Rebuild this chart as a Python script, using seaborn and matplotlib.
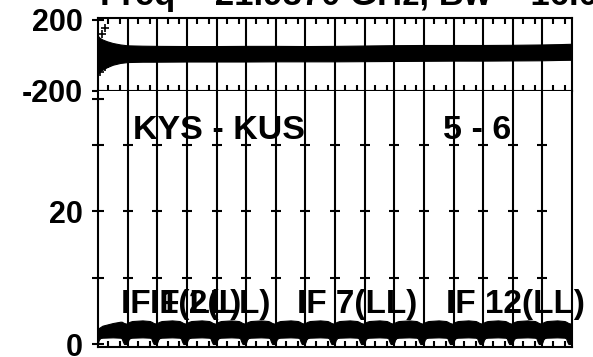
import numpy as np
import pandas as pd
import matplotlib
matplotlib.use("Agg")
import matplotlib.pyplot as plt
import seaborn as sns

sns.set_theme(style="white")
plt.rcParams['font.family'] = ['Liberation Sans', 'DejaVu Sans']
plt.rcParams['font.weight'] = 'bold'
plt.rcParams['text.color'] = 'black'
plt.rcParams['axes.labelcolor'] = 'black'
plt.rcParams['xtick.color'] = 'black'
plt.rcParams['ytick.color'] = 'black'

# ---------------- data ----------------
title = "Freq = 21.9870 GHz, Bw = 16.000 MHz"
baseline_label = "KYS - KUS"
channel_label = "5 - 6"
n_if = 16
if_label_text = ["IF 1(LL)", "IF 2(LL)", "IF 7(LL)", "IF 12(LL)"]
if_label_x = [0.76, 1.76, 6.72, 11.76]

# phase envelope (deg) along the band, x in IF units
phase_x = [0.00, 0.05, 0.15, 0.30, 0.50, 0.75, 1.00, 1.50, 2.00, 3.00, 4.00, 5.00,
           6.00, 7.00, 8.00, 9.00, 10.0, 11.0, 12.0, 13.0, 14.0, 15.0, 15.6, 16.0]
phase_hi = [110, 100, 90, 80, 70, 62, 57, 55, 54, 53, 53, 54,
            54, 53, 54, 56, 58, 59, 59, 59, 60, 62, 64, 66]
phase_lo = [-105, -90, -80, -66, -52, -42, -37, -35, -35, -34, -34, -34,
            -33, -33, -33, -32, -31, -30, -29, -29, -28, -27, -25, -24]
# isolated phase outliers in the first IF
phase_out_x = [0.07, 0.24, 0.24, 0.12]
phase_out_y = [-93, 155, -65, 120]

# amplitude envelope within one IF (bandpass shape), fraction of IF
amp_frac = [0.00, 0.03, 0.08, 0.15, 0.50, 0.75, 0.80, 0.84, 0.88, 0.97]
amp_lo_profile = [0.30, 0.70, 0.95, 1.00, 1.05, 1.00, 0.90, 0.40, 0.05, 0.05]
amp_hi_profile = [3.10, 3.30, 3.40, 3.50, 3.60, 3.50, 3.40, 3.30, 3.20, 3.10]
amp_hi_if1 = [2.30, 2.45, 2.60, 2.80, 3.20, 3.40, 3.40, 3.30, 3.20, 3.10]

phase_ticks = [200, -200]
amp_ticks = [0, 10, 20, 30, 36.9]
amp_tick_labels = ["0", "", "20", "", ""]
minor_frac = [0.35, 0.75]

# ---------------- figure ----------------
fig = plt.figure(figsize=(5.93, 3.57), dpi=100)
W, H = 593, 357
x0, x1 = 98, 572
ax1 = fig.add_axes([x0 / W, (H - 91) / H, (x1 - x0) / W, (91 - 18) / H])
ax2 = fig.add_axes([x0 / W, (H - 347) / H, (x1 - x0) / W, (347 - 91) / H])

lw = 1.5
edges = np.arange(n_if + 1)

# phase band
phase_df = pd.DataFrame({"x": phase_x + phase_x, "phase": phase_hi + phase_lo})
sns.lineplot(data=phase_df, x="x", y="phase", estimator="mean", errorbar=("pi", 100),
             color="black", lw=0, err_kws={"alpha": 1, "linewidth": 0.8, "edgecolor": "black"},
             ax=ax1)
sns.scatterplot(x=phase_out_x, y=phase_out_y, marker="+", s=40, color="black",
                linewidth=1.2, ax=ax1)
ax1.set_xlim(0, n_if)
ax1.set_ylim(-200, 211)

# amplitude band
rows_x, rows_y = [], []
for k in range(n_if):
    hi = amp_hi_if1 if k == 0 else amp_hi_profile
    for f, lo_v, hi_v in zip(amp_frac, amp_lo_profile, hi):
        rows_x += [k + f, k + f]
        rows_y += [lo_v, hi_v]
amp_df = pd.DataFrame({"x": rows_x, "amp": rows_y})
sns.lineplot(data=amp_df, x="x", y="amp", estimator="mean", errorbar=("pi", 100),
             color="black", lw=0, err_kws={"alpha": 1, "linewidth": 0.8, "edgecolor": "black"},
             ax=ax2)
ax2.set_xlim(0, n_if)
ax2.set_ylim(-0.4, 38.1)

# IF separator lines
for ax in (ax1, ax2):
    for e in edges[1:-1]:
        ax.axvline(e, color="black", lw=lw, zorder=3)
# cross ticks on separator lines in amplitude panel
for t in [10, 20, 30]:
    ax2.plot(edges[1:-1], [t] * (n_if - 1), ls="none", marker="_", ms=7, mew=lw,
             color="black", zorder=4)

# spines & ticks
for ax in (ax1, ax2):
    for s in ax.spines.values():
        s.set_color("black")
        s.set_linewidth(lw)
    ax.set_xlabel("")
    ax.set_ylabel("")
    ax.set_xticks([])
    ax.set_xticks([k + f for k in range(n_if) for f in minor_frac], minor=True)
    ax.tick_params(axis="x", which="minor", direction="in", length=4, width=lw,
                   color="black", bottom=True, top=(ax is ax1), labelbottom=False)
    ax.tick_params(axis="y", which="major", direction="inout", length=8, width=lw,
                   color="black", labelcolor="black", left=True, pad=7, labelsize=22)
    ax.grid(False)
    ax.set_facecolor("white")
ax2.spines["top"].set_visible(False)

ax1.set_yticks(phase_ticks)
ax1.set_yticklabels([str(v) for v in phase_ticks])
ax2.set_yticks(amp_ticks)
ax2.set_yticklabels(amp_tick_labels)
for lab in ax1.get_yticklabels() + ax2.get_yticklabels():
    lab.set_fontweight("bold")
    lab.set_color("black")

# texts
ax2.text(1.18, 30.9, baseline_label, fontsize=24.5, fontweight="bold", ha="left",
         va="baseline", color="black", zorder=6)
ax2.text(11.65, 30.9, channel_label, fontsize=24.5, fontweight="bold", ha="left",
         va="baseline", color="black", zorder=6)
for t, xp in zip(if_label_text, if_label_x):
    ax2.text(xp, 4.7, t, fontsize=24, fontweight="bold", ha="left", va="baseline",
             color="black", zorder=6)

fig.text(100 / W, (H - 5) / H, title, fontsize=25, fontweight="bold", ha="left",
         va="baseline", color="black")

fig.savefig("out.png", dpi=100)
